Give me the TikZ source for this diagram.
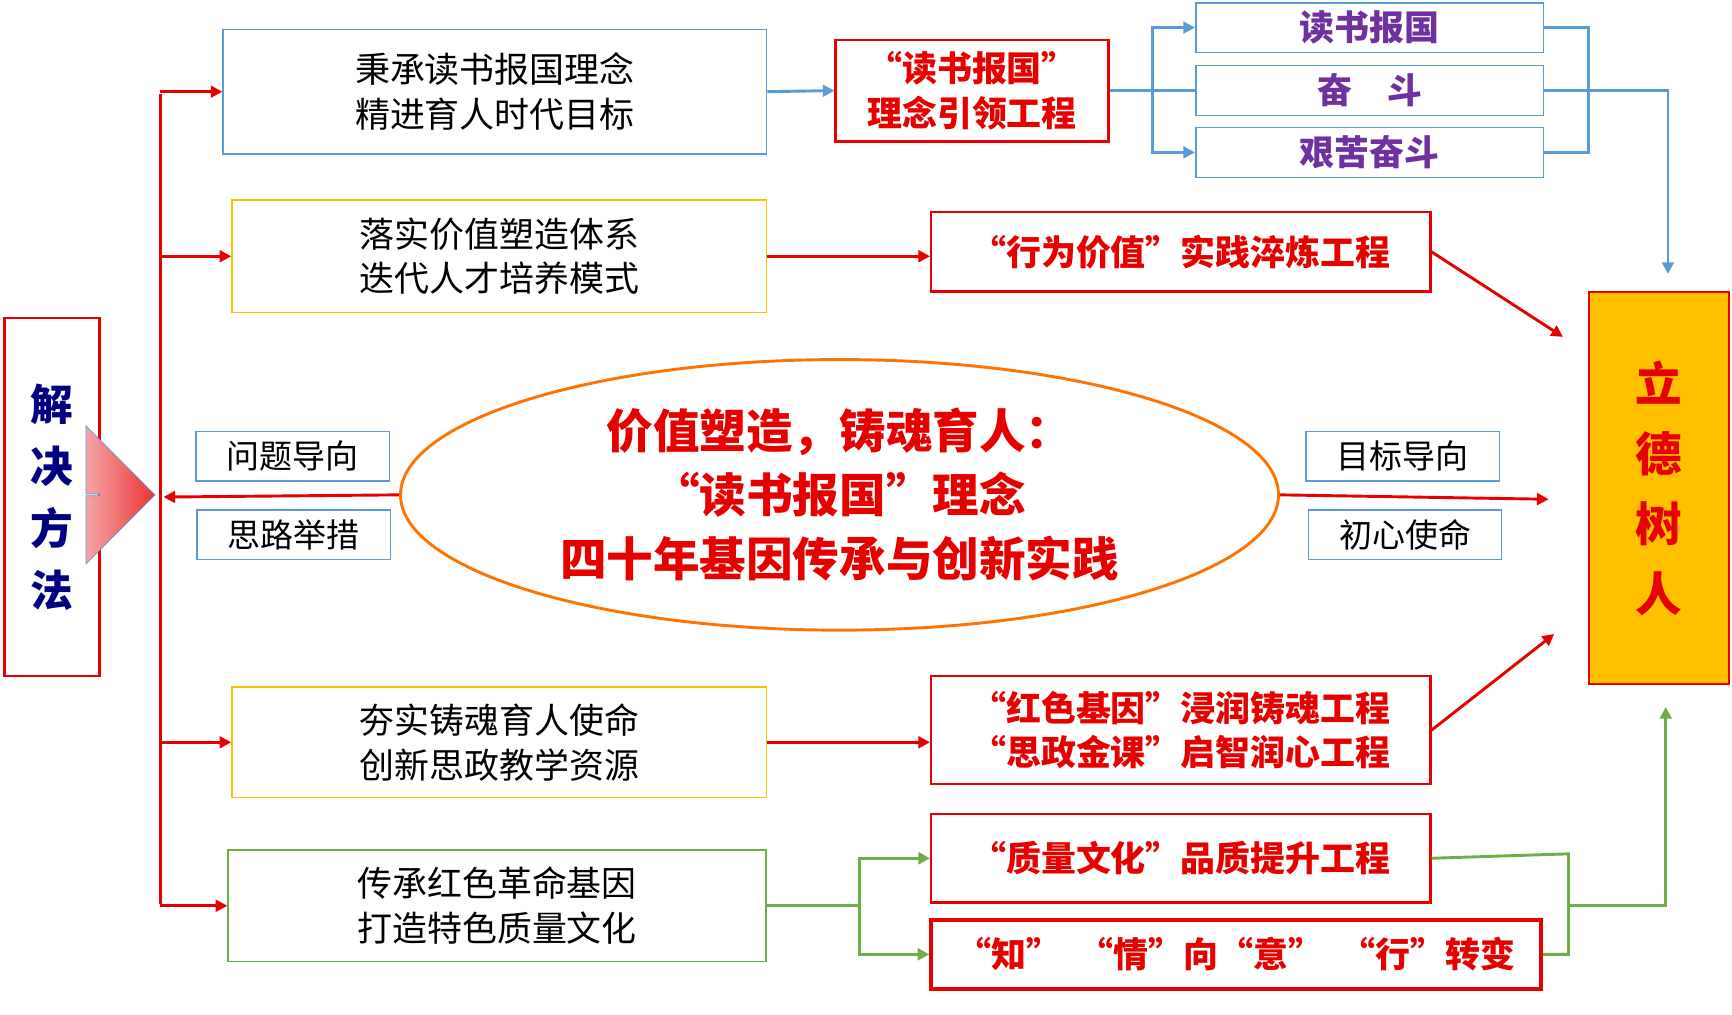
\documentclass[tikz,border=0pt]{standalone}
\usepackage{fontspec}
\newfontfamily\cjk{Noto Sans CJK SC}
\usetikzlibrary{arrows.meta,shapes.arrows,shapes.geometric}
\definecolor{bblue}{RGB}{91,155,213}
\definecolor{byel}{RGB}{255,192,0}
\definecolor{bgreen}{RGB}{112,173,71}
\definecolor{bred}{RGB}{230,0,0}
\definecolor{bpurp}{RGB}{112,48,160}
\tikzstyle{plain}=[draw,thick,align=center,inner sep=0pt,font=\cjk\fontsize{18}{23}\selectfont]
\tikzstyle{proj}=[draw=bred,very thick,align=center,inner sep=0pt,text=bred,font=\cjk\bfseries\fontsize{18}{23}\selectfont]
\tikzstyle{tag}=[draw=bblue,thick,inner sep=0pt,minimum height=0.9cm,font=\cjk\fontsize{17}{18}\selectfont]
\tikzstyle{sub}=[draw=bblue,thick,inner sep=0pt,minimum width=6.3cm,minimum height=0.9cm,text=bpurp,font=\cjk\bfseries\fontsize{18}{18}\selectfont]
\tikzstyle{rarr}=[bred,line width=1.5pt,-{Triangle[length=6pt,width=6pt]}]
\tikzstyle{barr}=[bblue,line width=1.5pt,-{Triangle[length=6pt,width=6pt]}]
\tikzstyle{garr}=[bgreen,line width=1.5pt,-{Triangle[length=6pt,width=6pt]}]

\begin{document}
\begin{tikzpicture}[x=0.02cm,y=-0.02cm]
  \useasboundingbox (0,0) rectangle (1568,918);

  % left and right ends
  \node[draw=bred,very thick,minimum width=1.72cm,minimum height=6.48cm,align=center,
    text=blue!50!black,font=\cjk\bfseries\fontsize{22}{32}\selectfont] (method) at (47,450) {解\\决\\方\\法};
  \node[draw=bred,very thick,fill=byel,minimum width=2.54cm,minimum height=7.1cm,align=center,
    text=bred,font=\cjk\bfseries\fontsize{24}{36}\selectfont] (goal) at (1502,442) {立\\德\\树\\人};
  \node[single arrow,draw=bblue,left color=bred!35,right color=bred!80,minimum height=1cm,
    minimum width=2.5cm,single arrow head extend=0.6cm,inner sep=0pt,text width=0.5cm] (bigarr) at (115,448) {};

  % centre
  \node[ellipse,draw=orange!90!red,line width=1.5pt,minimum width=15.9cm,minimum height=4.9cm,align=center,
    text=bred,font=\cjk\bfseries\fontsize{24}{33}\selectfont] (core) at (760,448)
    {价值塑造，铸魂育人：\\“读书报国”理念\\四十年基因传承与创新实践};
  \node[tag,minimum width=3.5cm] (q) at (265,413) {问题导向};
  \node[tag,minimum width=3.5cm] (s) at (266,484) {思路举措};
  \node[tag,minimum width=3.5cm] (m) at (1270,413) {目标导向};
  \node[tag,minimum width=3.5cm] (c) at (1272,484) {初心使命};
  \coordinate (lend) at (148,450);
  \coordinate (rend) at (1402,452);
  \draw[rarr] (core.west) -- (lend);
  \draw[rarr] (core.east) -- (rend);

  % boxes on the left
  \node[plain,draw=bblue,minimum width=9.84cm,minimum height=2.26cm] (b1) at (448,83) {秉承读书报国理念\\精进育人时代目标};
  \node[plain,draw=byel,minimum width=9.68cm,minimum height=2.04cm] (b2) at (452,232) {落实价值塑造体系\\迭代人才培养模式};
  \node[plain,draw=byel,minimum width=9.68cm,minimum height=2cm] (b3) at (452,672) {夯实铸魂育人使命\\创新思政教学资源};
  \node[plain,draw=bgreen,minimum width=9.74cm,minimum height=2.02cm] (b4) at (450,820) {传承红色革命基因\\打造特色质量文化};
  \coordinate (trunk1) at (145,85);
  \coordinate (trunk4) at (145,818);
  \draw[bred,line width=1.5pt] (trunk1) -- (trunk4);
  \foreach \b in {b1,b2,b3,b4}
    \draw[rarr] (trunk1 |- \b.west) -- (\b.west);

  % projects
  \node[proj,minimum width=4.94cm,minimum height=1.84cm] (p1) at (880,82) {“读书报国”\\理念引领工程};
  \node[proj,minimum width=9.04cm,minimum height=1.44cm] (p2) at (1069,228) {“行为价值”实践淬炼工程};
  \node[proj,minimum width=9.04cm,minimum height=1.96cm] (p3) at (1069,661) {“红色基因”浸润铸魂工程\\“思政金课”启智润心工程};
  \node[proj,minimum width=9.04cm,minimum height=1.6cm] (p4) at (1069,777) {“质量文化”品质提升工程};
  \node[proj,line width=2pt,minimum width=11.04cm,minimum height=1.26cm] (p5) at (1119,864) {“知”\enspace“情”向“意”\enspace“行”转变};

  \node[sub] (s1) at (1240,25) {读书报国};
  \node[sub] (s2) at (1240,82) {奋\quad 斗};
  \node[sub] (s3) at (1240,138) {艰苦奋斗};

  \draw[barr] (b1.east) -- (p1.west);
  \draw[rarr] (b2.east) -- (b2.east -| p2.west);
  \draw[rarr] (b3.east) -- (b3.east -| p3.west);

  % blue branch
  \coordinate (bj) at (1043,82);
  \draw[bblue,line width=1.5pt] (p1.east) -- (s2.west);
  \draw[barr] (bj) |- (s1.west);
  \draw[barr] (bj) |- (s3.west);
  \coordinate (bk) at (1438,82);
  \draw[bblue,line width=1.5pt] (s1.east) -| (bk) |- (s3.east);
  \coordinate (bdown) at (1510,248);
  \draw[barr] (s2.east) -| (bdown);

  % red into goal
  \coordinate (g2) at (1415,305);
  \coordinate (g3) at (1407,574);
  \draw[rarr] (p2.east) -- (g2);
  \draw[rarr] (p3.east) -- (g3);

  % green branch
  \coordinate (gj) at (778,820);
  \draw[bgreen,line width=1.5pt] (b4.east) -- (gj);
  \draw[garr] (gj) |- (p4.west);
  \draw[garr] (gj) |- (p5.west);
  \coordinate (gk) at (1420,820);
  \draw[bgreen,line width=1.5pt] (p4.east) -- (1420,773) -- (gk) |- (p5.east);
  \coordinate (gup) at (1508,640);
  \draw[garr] (gk) -| (gup);
\end{tikzpicture}
\end{document}
